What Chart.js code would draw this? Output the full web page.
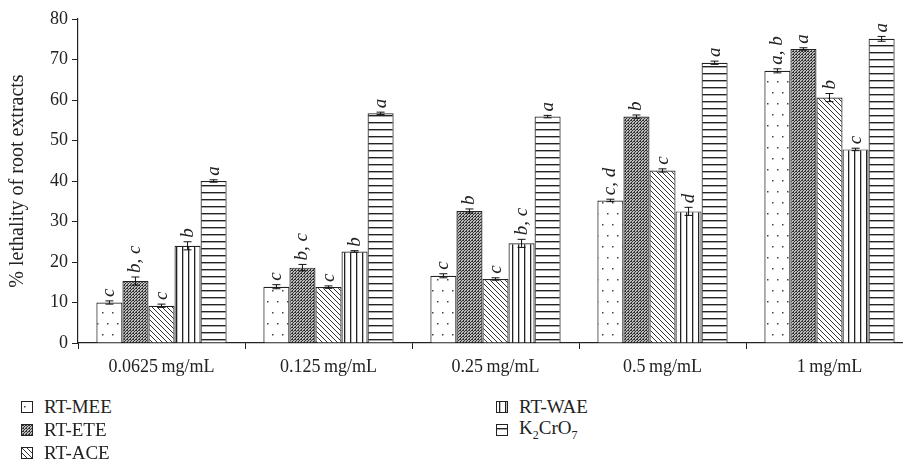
<!DOCTYPE html>
<html>
<head>
<meta charset="utf-8">
<script src="https://cdn.jsdelivr.net/npm/chart.js@4.4.0/dist/chart.umd.min.js"></script>
<style>
  body { margin: 0; background: #fff; }
  #wrap { position: relative; width: 903px; height: 475px; overflow: hidden; font-family: 'Liberation Serif', 'Times New Roman', Times, serif; }
  #box { position: absolute; left: 0; top: 0; width: 915px; height: 380px; }
  .leg { position: absolute; font-size: 19px; color: #222; display: flex; align-items: center; height: 22px; }
  .leg canvas { width: 10px; height: 10px; margin-right: 11px; border: 1px solid #222; }
</style>
</head>
<body>
<div id="wrap">
  <div id="box"><canvas id="chart"></canvas></div>
  <div class="leg" style="left:21px;top:396px"><canvas id="sw0" width="10" height="10"></canvas>RT-MEE</div>
  <div class="leg" style="left:21px;top:419px"><canvas id="sw1" width="10" height="10"></canvas>RT-ETE</div>
  <div class="leg" style="left:21px;top:442px"><canvas id="sw2" width="10" height="10"></canvas>RT-ACE</div>
  <div class="leg" style="left:496px;top:396px"><canvas id="sw3" width="10" height="10"></canvas>RT-WAE</div>
  <div class="leg" style="left:496px;top:419px"><canvas id="sw4" width="10" height="10"></canvas><span>K<sub style="font-size:12px">2</sub>CrO<sub style="font-size:12px">7</sub></span></div>
</div>
<script>
// categories and values
const categories = ['0.0625\u2009mg/mL', '0.125\u2009mg/mL', '0.25\u2009mg/mL', '0.5\u2009mg/mL', '1\u2009mg/mL'];
const seriesNames = ['RT-MEE', 'RT-ETE', 'RT-ACE', 'RT-WAE', 'K2CrO7'];

const mee = [10.0, 13.9, 16.6, 35.2, 67.2];
const ete = [15.3, 18.6, 32.6, 55.9, 72.6];
const ace = [9.2, 13.8, 15.8, 42.6, 60.6];
const wae = [24.0, 22.6, 24.6, 32.5, 47.8];
const k2cro7 = [40.0, 56.7, 55.9, 69.2, 75.1];

const meeErr = [0.4, 0.5, 0.5, 0.3, 0.5];
const eteErr = [1.0, 0.8, 0.5, 0.4, 0.3];
const aceErr = [0.4, 0.3, 0.3, 0.4, 1.0];
const waeErr = [1.0, 0.2, 1.0, 1.0, 0.3];
const k2cro7Err = [0.3, 0.3, 0.3, 0.4, 0.6];

const meeSig = ['c', 'c', 'c', 'c, d', 'a, b'];
const eteSig = ['b, c', 'b, c', 'b', 'b', 'a'];
const aceSig = ['c', 'c', 'c', 'c', 'b'];
const waeSig = ['b', 'b', 'b, c', 'd', 'c'];
const k2cro7Sig = ['a', 'a', 'a', 'a', 'a'];

const yTicks = [0, 10, 20, 30, 40, 50, 60, 70, 80];

const FONT = "'Liberation Serif', 'Times New Roman', Times, serif";

// hatch fills
function makePattern(kind) {
  const c = document.createElement('canvas');
  const x = c.getContext('2d');
  if (kind === 'dots') {
    c.width = 10; c.height = 22;
    x.fillStyle = '#fff'; x.fillRect(0, 0, 10, 22);
    x.fillStyle = '#444';
    x.fillRect(2, 4, 1.5, 1.5);
    x.fillRect(7, 15, 1.5, 1.5);
  } else if (kind === 'cross') {
    c.width = 3; c.height = 3;
    x.fillStyle = '#bbb'; x.fillRect(0, 0, 3, 3);
    x.fillStyle = '#333';
    x.fillRect(0, 0, 1, 1); x.fillRect(2, 1, 1, 1); x.fillRect(1, 2, 1, 1);
    x.fillRect(1, 0, 1, 1);
  } else if (kind === 'diag') {
    c.width = 5; c.height = 5;
    x.fillStyle = '#fff'; x.fillRect(0, 0, 5, 5);
    x.strokeStyle = '#333'; x.lineWidth = 1;
    x.beginPath();
    x.moveTo(-1, -1); x.lineTo(6, 6);
    x.moveTo(-1, 4); x.lineTo(1, 6);
    x.moveTo(4, -1); x.lineTo(6, 1);
    x.stroke();
  } else if (kind === 'vert') {
    c.width = 6; c.height = 6;
    x.fillStyle = '#fff'; x.fillRect(0, 0, 6, 6);
    x.fillStyle = '#222'; x.fillRect(2, 0, 1.3, 6);
  } else {
    c.width = 6; c.height = 7;
    x.fillStyle = '#fff'; x.fillRect(0, 0, 6, 7);
    x.fillStyle = '#222'; x.fillRect(0, 3, 6, 1.4);
  }
  return x.createPattern(c, 'repeat');
}

const kinds = ['dots', 'cross', 'diag', 'vert', 'horiz'];
const values = [mee, ete, ace, wae, k2cro7];
const errors = [meeErr, eteErr, aceErr, waeErr, k2cro7Err];
const sigs = [meeSig, eteSig, aceSig, waeSig, k2cro7Sig];

// legend swatches
kinds.forEach((k, i) => {
  const sw = document.getElementById('sw' + i).getContext('2d');
  sw.fillStyle = makePattern(k);
  sw.fillRect(0, 0, 10, 10);
});

const errorBarPlugin = {
  id: 'errorBars',
  afterDatasetsDraw(chart) {
    const ctx = chart.ctx;
    const y = chart.scales.y;
    ctx.save();
    chart.data.datasets.forEach((ds, i) => {
      const meta = chart.getDatasetMeta(i);
      meta.data.forEach((bar, j) => {
        const v = ds.data[j];
        const e = errors[i][j];
        const top = y.getPixelForValue(v + e);
        const bot = y.getPixelForValue(v - e);
        ctx.strokeStyle = '#111';
        ctx.lineWidth = 1;
        ctx.beginPath();
        ctx.moveTo(bar.x, top); ctx.lineTo(bar.x, bot);
        ctx.moveTo(bar.x - 4, top); ctx.lineTo(bar.x + 4, top);
        ctx.moveTo(bar.x - 4, bot); ctx.lineTo(bar.x + 4, bot);
        ctx.stroke();
        // significance letters
        ctx.save();
        ctx.translate(bar.x, top - 4);
        ctx.rotate(-Math.PI / 2);
        ctx.font = 'italic 19px ' + FONT;
        ctx.fillStyle = '#222';
        ctx.textAlign = 'left';
        ctx.textBaseline = 'middle';
        ctx.fillText(sigs[i][j], 0, 0);
        ctx.restore();
      });
    });
    ctx.restore();
  }
};

new Chart(document.getElementById('chart'), {
  type: 'bar',
  data: {
    labels: categories,
    datasets: seriesNames.map((name, i) => ({
      label: name,
      data: values[i],
      backgroundColor: makePattern(kinds[i]),
      borderColor: '#222',
      borderWidth: 1.2,
      categoryPercentage: 0.78,
      barPercentage: 1.0
    }))
  },
  options: {
    responsive: true,
    maintainAspectRatio: false,
    animation: false,
    layout: { padding: { top: 19, right: 2, left: 0, bottom: 0 } },
    plugins: { legend: { display: false }, tooltip: { enabled: false } },
    scales: {
      x: {
        grid: { display: true, drawOnChartArea: false, drawTicks: true, tickLength: 6, color: '#222', offset: true },
        border: { color: '#222', width: 1.2 },
        ticks: { color: '#222', padding: 7, font: { family: FONT, size: 18 } },
        afterFit(scale) { scale.height = 37; }
      },
      y: {
        min: 0,
        max: 80,
        afterBuildTicks(scale) { scale.ticks = yTicks.map(v => ({ value: v })); },
        grid: { display: true, drawOnChartArea: false, drawTicks: true, tickLength: 6, color: '#222' },
        border: { color: '#222', width: 1.2 },
        ticks: { color: '#222', padding: 4, font: { family: FONT, size: 18 } },
        title: { display: true, text: '% lethality of root extracts', color: '#222', padding: { top: 6, bottom: 0 }, font: { family: FONT, size: 20 } },
        afterFit(scale) { scale.width = 78; }
      }
    }
  },
  plugins: [errorBarPlugin]
});
</script>
</body>
</html>
